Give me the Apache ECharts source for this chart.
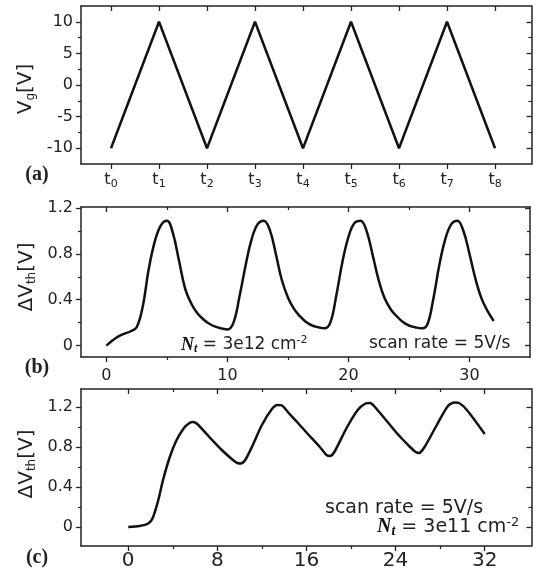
<!DOCTYPE html>
<html>
<head>
<meta charset="utf-8">
<script src="https://cdn.jsdelivr.net/npm/echarts@6/dist/echarts.min.js"></script>
<style>
html, body { margin: 0; padding: 0; background: #fff; }
#main { width: 538px; height: 572px; }
</style>
</head>
<body>
<div id="main"></div>
<script>
// (a) gate voltage triangle wave
var tIdx = [0, 1, 2, 3, 4, 5, 6, 7, 8];
var vg = [-10, 10, -10, 10, -10, 10, -10, 10, -10];

// (b) Nt = 3e12
var bX = [0, 0.5, 1, 1.5, 2, 2.5, 3, 3.5, 4, 4.5, 5, 5.5, 6, 6.5, 7, 7.5, 8, 8.5, 9, 9.5,
  10, 10.5, 11, 11.5, 12, 12.5, 13, 13.5, 14, 14.5, 15, 15.5, 16, 16.5, 17, 17.5, 18, 18.5, 19, 19.5,
  20, 20.5, 21, 21.5, 22, 22.5, 23, 23.5, 24, 24.5, 25, 25.5, 26, 26.5, 27, 27.5, 28, 28.5, 29, 29.5,
  30, 30.5, 31, 31.5, 32];
var bY = [0, 0.045, 0.08, 0.105, 0.125, 0.16, 0.34, 0.67, 0.91, 1.05, 1.09, 0.98, 0.74, 0.5, 0.37, 0.285, 0.23, 0.19, 0.165, 0.15,
  0.14, 0.2, 0.43, 0.70, 0.93, 1.06, 1.09, 1.01, 0.8, 0.57, 0.42, 0.32, 0.255, 0.205, 0.175, 0.16, 0.15, 0.2, 0.44, 0.73,
  0.95, 1.07, 1.09, 1.0, 0.79, 0.57, 0.41, 0.315, 0.255, 0.205, 0.175, 0.16, 0.15, 0.18, 0.4, 0.7, 0.93, 1.06, 1.09, 1.0,
  0.8, 0.58, 0.41, 0.3, 0.215];

// (c) Nt = 3e11
var cX = [0, 1, 1.8, 2.2, 2.7, 3.1, 3.7, 4.3, 5, 5.5, 5.8, 6.2, 7.2, 8.4, 9.4, 9.8, 10.1, 10.5, 11.1, 12,
  12.9, 13.4, 13.8, 14.4, 15.2, 16, 17.2, 17.8, 18.1, 18.5, 19.6, 20.6, 21.3, 21.7, 22.3, 24.1, 25.3, 25.8, 26.1, 26.6,
  27.7, 28.7, 29.3, 29.7, 30.4, 32];
var cY = [0, 0.01, 0.035, 0.09, 0.27, 0.46, 0.69, 0.86, 0.99, 1.04, 1.05, 1.03, 0.91, 0.77, 0.67, 0.64, 0.635, 0.67, 0.8, 1.02,
  1.18, 1.22, 1.215, 1.14, 1.045, 0.945, 0.8, 0.72, 0.71, 0.75, 0.99, 1.17, 1.235, 1.24, 1.18, 0.94, 0.8, 0.75, 0.74, 0.8,
  1.02, 1.21, 1.245, 1.24, 1.17, 0.93];

// tick positions
var aYMajor = [-10, -5, 0, 5, 10], aYMinor = [-7.5, -2.5, 2.5, 7.5];
var bXMajor = [0, 10, 20, 30], bXMinor = [5, 15, 25];
var bYMajor = [0, 0.4, 0.8, 1.2], bYMinor = [0.2, 0.6, 1.0];
var cXMajor = [0, 8, 16, 24, 32], cXMinor = [4, 12, 20, 28];
var cYMajor = [0, 0.4, 0.8, 1.2], cYMinor = [0.2, 0.6, 1.0];

var FONT = 'DejaVu Sans';
var INK = '#222';

var xAxes = [], yAxes = [];

// main axis with labels + mirrored axis, each with optional minor ticks
function addAxes(list, dim, grid, min, max, major, minor, label) {
  var pos = dim === 'x' ? ['bottom', 'top'] : ['left', 'right'];
  var mainIndex = list.length;
  [0, 1].forEach(function (side) {
    list.push({
      type: 'value', gridIndex: grid, position: pos[side], min: min, max: max,
      axisLine: { show: true, onZero: false, lineStyle: { color: INK, width: 1.5 } },
      axisTick: { show: true, inside: side === 1, length: 5, customValues: major, lineStyle: { color: INK, width: 1.3 } },
      axisLabel: side === 0 ? label : { show: false },
      splitLine: { show: false }
    });
    if (minor) {
      list.push({
        type: 'value', gridIndex: grid, position: pos[side], min: min, max: max,
        axisLine: { show: false, onZero: false },
        axisTick: { show: true, inside: side === 1, length: 3, customValues: minor, lineStyle: { color: INK, width: 1.2 } },
        axisLabel: { show: false },
        splitLine: { show: false }
      });
    }
  });
  return mainIndex;
}

function lbl(values, size, margin, extra) {
  var o = { show: true, customValues: values, color: INK, fontFamily: FONT, fontSize: size, margin: margin };
  for (var k in extra) o[k] = extra[k];
  return o;
}

var ax = addAxes(xAxes, 'x', 0, -0.625, 8.76, tIdx, null, lbl(tIdx, 16, 6, {
  lineHeight: 20,
  formatter: function (v) { return 't{s|' + Math.round(v) + '}'; },
  rich: { s: { fontFamily: FONT, fontSize: 11, lineHeight: 11, verticalAlign: 'bottom', color: INK } }
}));
var ay = addAxes(yAxes, 'y', 0, -12.5, 12.5, aYMajor, aYMinor, lbl(aYMajor, 16, 8, {}));

var bx = addAxes(xAxes, 'x', 1, -2.1, 35, bXMajor, bXMinor, lbl(bXMajor, 16, 11, {}));
var by = addAxes(yAxes, 'y', 1, -0.1, 1.21, bYMajor, bYMinor, lbl(bYMajor, 16, 8, {}));

var cx = addAxes(xAxes, 'x', 2, -4.24, 36.2, cXMajor, cXMinor, lbl(cXMajor, 20, 5, {}));
var cy = addAxes(yAxes, 'y', 2, -0.19, 1.38, cYMajor, cYMinor, lbl(cYMajor, 16, 8, {}));

function pairs(xs, ys) {
  return xs.map(function (x, i) { return [x, ys[i]]; });
}

var lineStyle = { color: '#111', width: 2.5 };

var subRich = {
  a: { fontFamily: FONT, fontSize: 20, lineHeight: 22, fill: INK, color: INK },
  s: { fontFamily: FONT, fontSize: 12, lineHeight: 12, verticalAlign: 'bottom', fill: INK, color: INK }
};

function ntRich(size) {
  return {
    n: { fontFamily: 'Liberation Serif', fontStyle: 'italic', fontWeight: 'bold', fontSize: size + 1, lineHeight: size + 3, fill: '#111' },
    t: { fontFamily: 'Liberation Serif', fontStyle: 'italic', fontWeight: 'bold', fontSize: size - 5, lineHeight: size - 5, verticalAlign: 'bottom', fill: '#111' },
    r: { fontFamily: FONT, fontSize: size, lineHeight: size + 3, fill: INK },
    p: { fontFamily: FONT, fontSize: size - 6, lineHeight: size - 6, verticalAlign: 'top', fill: INK }
  };
}

function txt(x, y, text, font, rotation, align) {
  return {
    type: 'text', x: x, y: y, rotation: rotation || 0,
    style: { text: text, font: font, fill: INK, align: align || 'center', verticalAlign: 'middle',
      textAlign: align || 'center', textVerticalAlign: 'middle' }
  };
}

function richTxt(x, y, text, rich, rotation, align) {
  return {
    type: 'text', x: x, y: y, rotation: rotation || 0,
    style: { text: text, rich: rich, fill: INK, align: align || 'center', verticalAlign: 'middle',
      textAlign: align || 'center', textVerticalAlign: 'middle' }
  };
}

var chart = echarts.init(document.getElementById('main'));
chart.setOption({
  animation: false,
  backgroundColor: '#fff',
  grid: [
    { left: 81, top: 6, width: 450.5, height: 158 },
    { left: 81, top: 207, width: 449, height: 150 },
    { left: 81, top: 389, width: 450.5, height: 157 }
  ],
  xAxis: xAxes,
  yAxis: yAxes,
  series: [
    { type: 'line', xAxisIndex: ax, yAxisIndex: ay, data: pairs(tIdx, vg), showSymbol: false, lineStyle: lineStyle },
    { type: 'line', xAxisIndex: bx, yAxisIndex: by, data: pairs(bX, bY), smooth: 0.4, showSymbol: false, lineStyle: lineStyle },
    { type: 'line', xAxisIndex: cx, yAxisIndex: cy, data: pairs(cX, cY), smooth: 0.25, showSymbol: false, lineStyle: lineStyle }
  ],
  graphic: [
    richTxt(26, 89, '{a|V}{s|g}{a|[V]}', subRich, Math.PI / 2),
    richTxt(27, 277, '{a|ΔV}{s|th}{a|[V]}', subRich, Math.PI / 2),
    richTxt(27, 464, '{a|ΔV}{s|th}{a|[V]}', subRich, Math.PI / 2),
    txt(37, 175, '(a)', 'bold 20px "Liberation Serif"'),
    txt(37, 368, '(b)', 'bold 20px "Liberation Serif"'),
    txt(37, 558, '(c)', 'bold 20px "Liberation Serif"'),
    richTxt(181, 345, '{n|N}{t|t}{r| = 3e12 cm}{p|-2}', ntRich(17), 0, 'left'),
    txt(369, 344, 'scan rate = 5V/s', '17px "DejaVu Sans"', 0, 'left'),
    txt(325, 508, 'scan rate = 5V/s', '19px "DejaVu Sans"', 0, 'left'),
    richTxt(377, 527, '{n|N}{t|t}{r| = 3e11 cm}{p|-2}', ntRich(19), 0, 'left')
  ]
});
</script>
</body>
</html>
